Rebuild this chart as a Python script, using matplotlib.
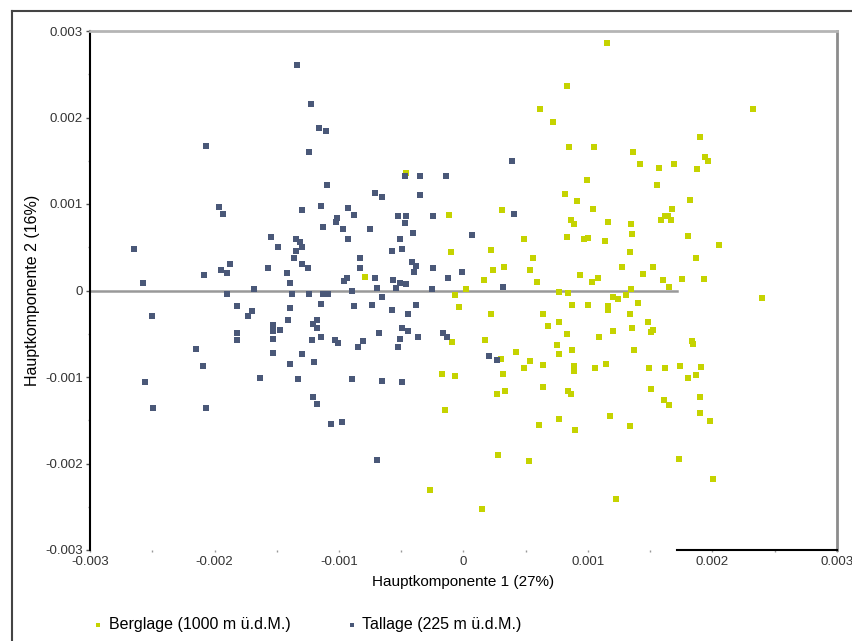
import matplotlib
matplotlib.use("Agg")
import matplotlib.pyplot as plt
from matplotlib.lines import Line2D
import numpy as np

plt.rcParams['font.family'] = ['Liberation Sans', 'DejaVu Sans']

# PCA scores, in units of 1e-3
tal_pc1 = [-1.334, -1.221, -1.157, -1.103, -1.238, -2.072, -1.097, -1.962, -1.930, -1.299,
           -1.143, -1.017, -1.025, -1.127, -1.546, -1.490, -1.345, -1.312, -1.294, -1.342,
           -1.358, -1.299, -1.250, -2.647, -2.574, -2.088, -1.949, -1.903, -1.876, -1.568,
           -1.420, -1.391, -1.685,
           0.392, -0.469, -0.352, -0.137, -0.352, -0.709, -0.655, -0.924, -0.883, -0.523,
           -0.459, -0.469, -0.244, -0.964, -0.754, -0.926, -0.507, -0.403, 0.405, 0.067,
           -0.577, -0.491, -0.832, -0.832, -0.416, -0.381, -0.400, -0.244, -0.010, -0.121,
           -0.958, -0.932, -0.711, -0.695, -0.569, -0.507, -0.459, -0.545, 0.314, -0.252,
           -1.900, -1.374, -1.242, -1.125, -1.085, -1.141, -1.822, -1.391, -1.699, -1.731,
           -2.499, -1.407, -1.176, -1.208, -1.178, -1.530, -1.530, -1.476, -1.822, -1.822,
           -1.530, -1.218, -1.143, -1.036, -1.009, -2.147, -1.530, -1.296, -1.391, -1.202,
           -2.094, -1.632, -1.329, -2.558, -1.205, -1.173, -2.494, -2.072, -1.065,
           -0.894, -0.655, -0.878, -0.738, -0.577, -0.381, -0.445, -0.491, -0.445, -0.676,
           -0.368, -0.507, -0.523, -0.167, -0.134, -0.811, -0.848, 0.207, 0.266, -0.894,
           -0.655, -0.491, -0.972, -0.692]
tal_pc2 = [2.604, 2.152, 1.881, 1.839, 1.596, 1.672, 1.217, 0.970, 0.881, 0.927,
           0.981, 0.842, 0.791, 0.730, 0.618, 0.506, 0.591, 0.564, 0.506, 0.455,
           0.371, 0.309, 0.258, 0.483, 0.085, 0.174, 0.235, 0.205, 0.309, 0.258,
           0.205, 0.085, 0.020,
           1.495, 1.324, 1.324, 1.324, 1.104, 1.127, 1.086, 0.950, 0.873, 0.861,
           0.861, 0.784, 0.861, 0.707, 0.707, 0.594, 0.594, 0.660, 0.881, 0.637,
           0.460, 0.483, 0.371, 0.263, 0.328, 0.286, 0.209, 0.263, 0.217, 0.147,
           0.108, 0.147, 0.147, 0.031, 0.127, 0.089, 0.073, 0.031, 0.038, 0.012,
           -0.046, -0.035, -0.035, -0.046, -0.046, -0.151, -0.182, -0.205, -0.240, -0.298,
           -0.293, -0.339, -0.336, -0.382, -0.432, -0.394, -0.472, -0.452, -0.490, -0.576,
           -0.560, -0.576, -0.541, -0.576, -0.606, -0.676, -0.727, -0.738, -0.846, -0.826,
           -0.873, -1.008, -1.028, -1.063, -1.228, -1.317, -1.364, -1.364, -1.538,
           -0.008, -0.073, -0.182, -0.162, -0.228, -0.162, -0.275, -0.429, -0.472, -0.495,
           -0.541, -0.560, -0.649, -0.495, -0.541, -0.583, -0.649, -0.761, -0.803, -1.028,
           -1.051, -1.063, -1.518, -1.962]

berg_pc1 = [0.835, 0.614, 0.717, 0.848, -0.461, 0.993, 0.813, 0.915, 0.308, -0.113,
            0.867, 0.886, 0.483, 0.835, 0.969, 0.996, -0.102, 0.223, 0.558, 0.236,
            0.324, 0.537, -0.795, 0.163, 0.588, 0.932, 0.019,
            1.151, 2.329, 1.900, 1.049, 1.363, 1.415, 1.568, 1.689, 1.874, 1.941,
            1.962, 1.554, 1.044, 1.162, 1.345, 1.353, 1.135, 1.677, 1.820, 1.586,
            1.618, 1.645, 1.664, 1.806, 2.056, 1.334, 1.275, 1.522, 1.444, 1.868,
            1.600, 1.753, 1.932, 1.077, 1.031, 1.347, 1.648,
            -0.072, -0.035, 0.220, 0.639, 0.679, 0.771, 0.832, 0.872, 1.001, 0.840,
            0.771, -0.091, 0.172, 0.304, 0.421, 0.531, 0.483, 0.639, 0.754, 0.771,
            0.872, 0.886, 0.888, 0.316, -0.169, -0.072, 0.266, 0.330, 0.639, 0.840,
            0.862, -0.151, 0.606, 0.771, 0.899, 0.276, 0.529, -0.271, 0.145,
            2.394, 1.197, 1.238, 1.302, 1.162, 1.162, 1.399, 1.337, 1.479, 1.350,
            1.506, 1.519, 1.200, 1.089, 1.836, 1.844, 1.366, 1.055, 1.141, 1.490,
            1.618, 1.742, 1.908, 1.806, 1.870, 1.506, 1.608, 1.651, 1.898, 1.903,
            1.983, 1.176, 1.339, 1.731, 2.007, 1.226]
berg_pc2 = [2.360, 2.101, 1.943, 1.660, 1.356, 1.278, 1.116, 1.035, 0.930, 0.877,
            0.811, 0.773, 0.591, 0.622, 0.591, 0.611, 0.448, 0.467, 0.371, 0.232,
            0.267, 0.232, 0.154, 0.127, 0.096, 0.174, 0.023,
            2.858, 2.094, 1.773, 1.660, 1.596, 1.463, 1.414, 1.463, 1.402, 1.549,
            1.498, 1.217, 0.947, 0.788, 0.773, 0.657, 0.571, 0.947, 1.043, 0.811,
            0.866, 0.866, 0.819, 0.634, 0.525, 0.448, 0.267, 0.267, 0.185, 0.374,
            0.119, 0.136, 0.136, 0.147, 0.096, 0.020, 0.043,
            -0.054, -0.185, -0.275, -0.275, -0.406, -0.359, -0.506, -0.166, -0.166, -0.027,
            -0.020, -0.594, -0.571, -0.796, -0.715, -0.811, -0.892, -0.857, -0.626, -0.738,
            -0.692, -0.869, -0.935, -0.962, -0.970, -0.993, -1.193, -1.167, -1.116, -1.159,
            -1.193, -1.379, -1.556, -1.483, -1.611, -1.900, -1.966, -2.309, -2.530,
            -0.085, -0.073, -0.093, -0.054, -0.174, -0.228, -0.147, -0.275, -0.359, -0.432,
            -0.479, -0.452, -0.472, -0.541, -0.587, -0.618, -0.687, -0.896, -0.849, -0.900,
            -0.896, -0.873, -0.881, -1.008, -0.973, -1.139, -1.271, -1.324, -1.236, -1.414,
            -1.503, -1.448, -1.561, -1.943, -2.175, -2.407]

ticks = [-0.003, -0.002, -0.001, 0, 0.001, 0.002, 0.003]
tick_labels = ['-0.003', '-0.002', '-0.001', '0', '0.001', '0.002', '0.003']
ytick_labels = ['-0.003', '-0.002', '-0.001', '0', '0.001', '0.002', '0.003']

BLUE = '#4a5878'
GREEN = '#c5d300'

fig = plt.figure(figsize=(8.53, 6.41), dpi=100)
ax = fig.add_axes([90 / 853, 1 - 550 / 641, (837 - 90) / 853, (550 - 31) / 641])

ax.scatter(np.array(berg_pc1) * 1e-3, np.array(berg_pc2) * 1e-3, s=13, marker='s',
           color=GREEN, linewidths=0, zorder=3, label='Berglage (1000 m ü.d.M.)')
ax.scatter(np.array(tal_pc1) * 1e-3, np.array(tal_pc2) * 1e-3, s=20, marker='s',
           color=BLUE, linewidths=0, zorder=3, label='Tallage (225 m ü.d.M.)')

ax.set_xlim(-0.003, 0.003)
ax.set_ylim(-0.003, 0.003)

# zero line stops where the short bottom axis begins
split = 0.001715
ax.plot([-0.003, split], [0, 0], color='#999999', lw=1.8, zorder=2)
ax.plot([split, 0.003], [-0.003, -0.003], color='black', lw=1.5, zorder=4, clip_on=False)

ax.spines['bottom'].set_visible(False)
ax.spines['left'].set_color('black')
ax.spines['left'].set_linewidth(1.5)
ax.spines['top'].set_color('#b5b5b5')
ax.spines['top'].set_linewidth(2)
ax.spines['right'].set_color('#8c8c8c')
ax.spines['right'].set_linewidth(2)

ax.set_xticks(ticks)
ax.set_xticklabels(tick_labels)
ax.set_yticks(ticks)
ax.set_yticklabels(ytick_labels)
ax.set_xticks(np.arange(-0.0025, 0.003, 0.001), minor=True)
ax.set_yticks(np.arange(-0.0025, 0.003, 0.001), minor=True)
ax.tick_params(axis='x', which='major', length=1.5, width=1, color='#999999', pad=3,
               labelsize=9.5, labelcolor='#333333')
ax.tick_params(axis='x', which='minor', length=1.5, width=1, color='#999999')
ax.tick_params(axis='y', which='major', length=3, width=1, color='#555555', pad=2,
               labelsize=9.5, labelcolor='#333333')
ax.tick_params(axis='y', which='minor', length=1.5, width=1, color='#999999')

ax.set_xlabel('Hauptkomponente 1 (27%)', fontsize=11, labelpad=5)
ax.set_ylabel('Hauptkomponente 2 (16%)', fontsize=11.5, labelpad=4)

leg = ax.legend(loc='upper left', bbox_to_anchor=(80 / 853, 1 - 603 / 641),
                bbox_transform=fig.transFigure, ncol=2, frameon=False, fontsize=11.5,
                handlelength=0.5, handletextpad=0.4, columnspacing=3.6, markerscale=0.8)

# outer frame (left and top edge visible)
fig.add_artist(Line2D([12 / 853, 12 / 853], [0, 1 - 11 / 641], transform=fig.transFigure,
                      color='#444444', lw=1.5))
fig.add_artist(Line2D([12 / 853, 1], [1 - 11 / 641, 1 - 11 / 641], transform=fig.transFigure,
                      color='#444444', lw=1.5))

fig.savefig('out.png', dpi=100)
plt.close(fig)
